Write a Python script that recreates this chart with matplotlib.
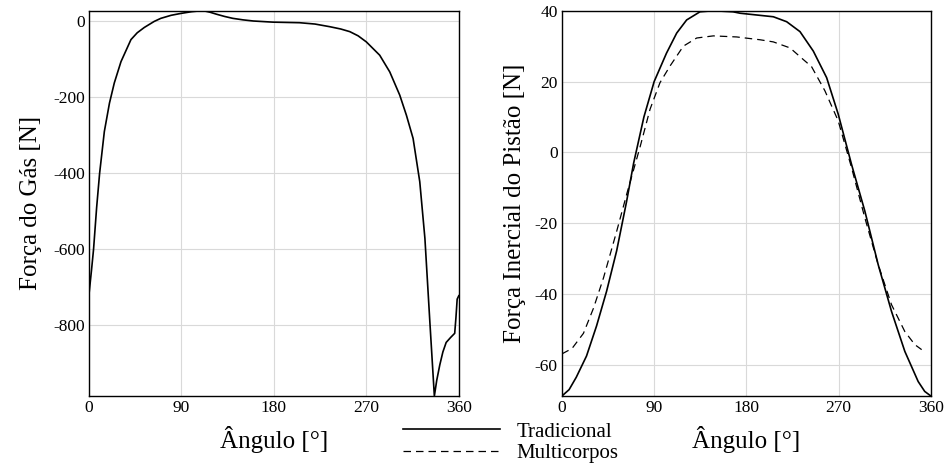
import matplotlib
matplotlib.use("Agg")
import matplotlib.pyplot as plt
from matplotlib.lines import Line2D

plt.rcParams['font.family'] = ['Liberation Serif', 'DejaVu Serif']
plt.rcParams['axes.unicode_minus'] = False

# Força do gás
ang_gas = [0, 2.5, 4.5, 7.5, 10.4, 15, 20, 24.7, 31.2, 40.9, 47, 53.9,
           63.6, 70, 80, 89.6, 100, 109, 111.6, 118, 124, 132, 140, 150, 160,
           179, 205, 220, 234.4, 245, 253.9, 262, 270, 283, 292.8, 302.5, 309,
           315.5, 322, 327, 331.8, 336.2, 338.5, 341.5, 344.5, 347.7, 352,
           356, 357.2, 358.4, 360]
f_gas = [-720, -655, -600, -490, -400, -290, -215, -162, -106, -48, -30,
         -16, 0, 8, 16, 21, 25.5, 28, 28, 24, 19, 13, 8, 4, 1,
         -2, -3.5, -7, -14, -20, -27, -38, -54, -89, -133, -194, -247,
         -308, -422, -571, -790, -986, -945, -904, -870, -845, -832,
         -821, -780, -731, -722]

# Força inercial do pistão
ang_trad = [0, 7, 14, 24, 33.8, 43.6, 53.4, 63, 70, 80, 90, 102,
            112, 121.7, 134.7, 147.7, 167, 173.8, 190, 206.3, 219.3, 232.3,
            245.3, 258.3, 269.6, 282.6, 295.6, 308.6, 321.6, 334.6, 347.6,
            354, 360]
f_trad = [-68.8, -67.0, -63.5, -57.5, -49.0, -39.2, -27.8, -14.0, -3.0, 10.0,
          20.0, 28.0, 33.7, 37.4, 39.7, 40.0, 39.7, 39.3, 38.8, 38.3, 36.9,
          34.1, 28.6, 21.1, 10.8, -3.4, -16.6, -31.7, -44.9, -56.2, -64.7,
          -67.5, -68.8]

ang_multi = [0, 9.8, 21, 30.8, 40.6, 53.6, 63.4, 76.4, 86, 95.7, 105.5, 118.5,
             131.5, 147.7, 170.5, 193.4, 206.3, 222.6, 235.6, 243.6, 256.6,
             269.6, 282.6, 295.6, 308.6, 321.6, 334.6, 344.4, 351]
f_multi = [-56.9, -55.4, -51.1, -44.0, -35.4, -22.1, -11.6, 1.7, 12.2, 19.7,
           24.4, 30.0, 32.3, 32.9, 32.6, 31.8, 31.2, 29.5, 26.2, 24.2, 17.4,
           8.9, -4.3, -18.5, -31.7, -43.0, -50.6, -54.3, -55.7]

xticks = [0, 90, 180, 270, 360]

fig = plt.figure(figsize=(9.46, 4.67), dpi=100)
ax1 = fig.add_axes([0.094, 0.152, 0.391, 0.825])
ax2 = fig.add_axes([0.594, 0.152, 0.390, 0.825])

ax1.plot(ang_gas, f_gas, color='black', lw=1.2)
ax1.set_ylim(-986, 28)
ax1.set_yticks([0, -200, -400, -600, -800])

ax2.plot(ang_trad, f_trad, color='black', lw=1.2)
ax2.plot(ang_multi, f_multi, color='black', lw=0.9, linestyle=(0, (6, 4)))
ax2.set_ylim(-68.8, 40)
ax2.set_yticks([40, 20, 0, -20, -40, -60])

for ax in (ax1, ax2):
    ax.set_xlim(0, 360)
    ax.set_xticks(xticks)
    ax.grid(True, color='#d9d9d9', lw=0.8)
    ax.set_axisbelow(True)
    ax.tick_params(length=0, labelsize=12.5, pad=3)
    for s in ax.spines.values():
        s.set_linewidth(1.0)
    ax.set_xlabel('Ângulo [°]', fontsize=18, labelpad=7)

ax1.set_ylabel('Força do Gás [N]', fontsize=18, labelpad=8)
ax2.set_ylabel('Força Inercial do Pistão [N]', fontsize=18, labelpad=6)

handles = [Line2D([], [], color='black', lw=1.2),
           Line2D([], [], color='black', lw=0.9, linestyle=(0, (6, 4)))]
fig.legend(handles, ['Tradicional', 'Multicorpos'], loc='center left',
           bbox_to_anchor=(0.426, 0.052), frameon=False, fontsize=15,
           handlelength=4.65, handletextpad=0.8, labelspacing=0.1,
           borderpad=0, borderaxespad=0)

fig.savefig('out.png', dpi=100)
